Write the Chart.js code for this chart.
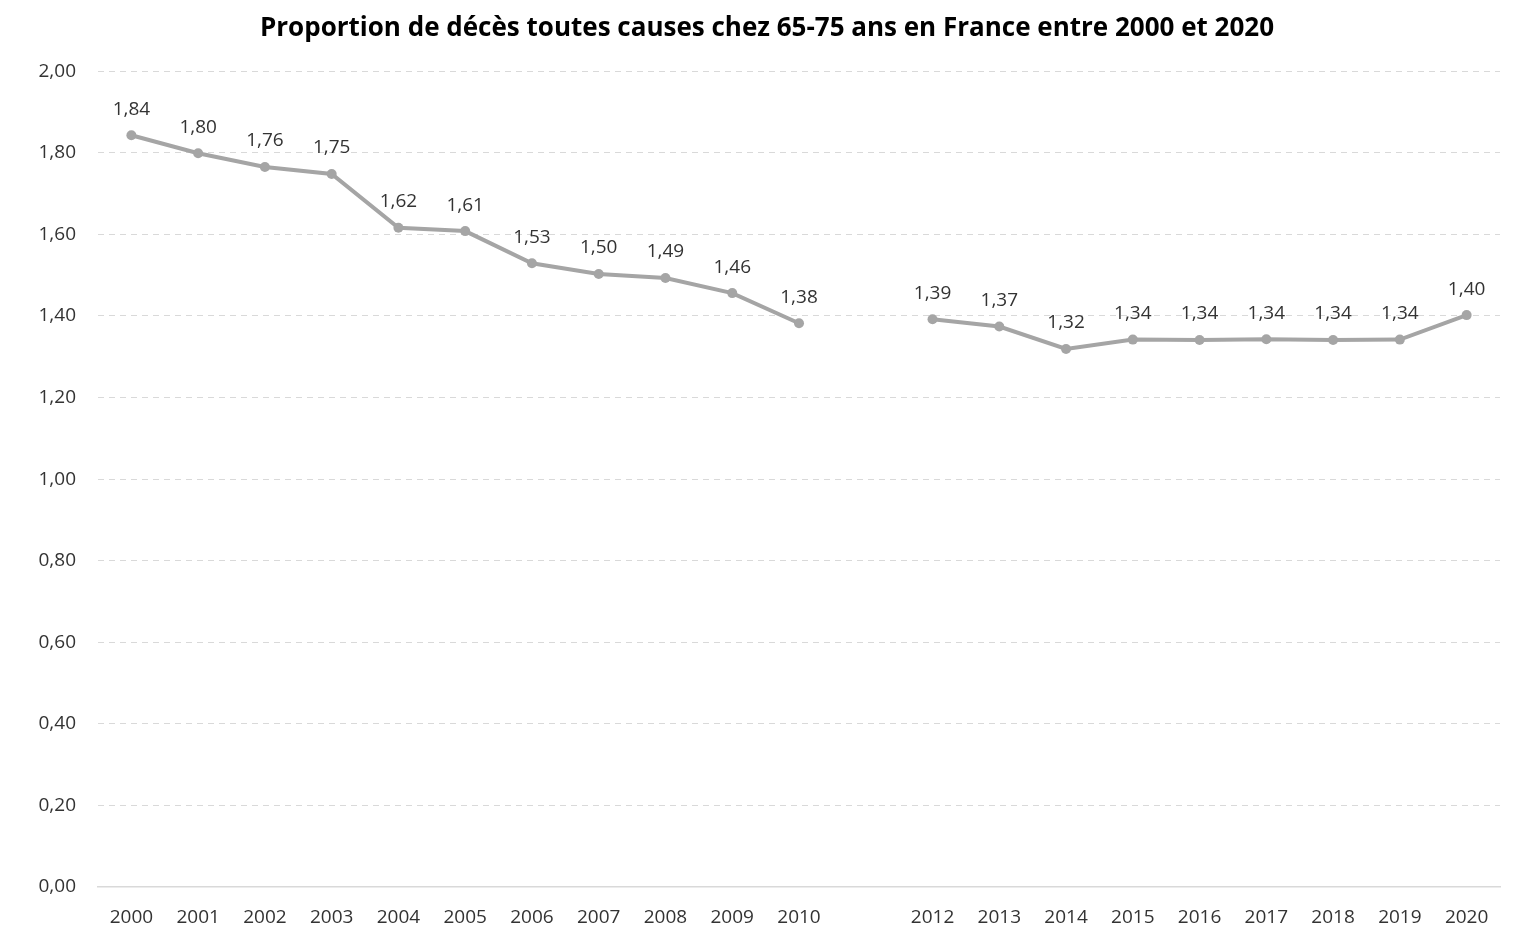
<!DOCTYPE html>
<html>
<head>
<meta charset="utf-8">
<script src="https://cdn.jsdelivr.net/npm/chart.js@4.4.1/dist/chart.umd.min.js"></script>
<style>
  html, body { margin: 0; padding: 0; background: #ffffff; }
  #wrap { width: 1538px; height: 931px; position: relative; }
</style>
</head>
<body>
<div id="wrap"><canvas id="c"></canvas></div>
<script>
const years = ['2000','2001','2002','2003','2004','2005','2006','2007','2008','2009','2010','',
               '2012','2013','2014','2015','2016','2017','2018','2019','2020'];
const deathShare = [1.843, 1.799, 1.765, 1.748, 1.616, 1.608, 1.529, 1.503, 1.493, 1.456, 1.382, null,
                    1.392, 1.374, 1.319, 1.342, 1.341, 1.343, 1.341, 1.342, 1.402];
const yTicks = [0, 0.2, 0.4, 0.6, 0.8, 1.0, 1.2, 1.4, 1.6, 1.8, 2.0];
const titleText = 'Proportion de décès toutes causes chez 65-75 ans en France entre 2000 et 2020';

const FONT = "'Open Sans', 'Liberation Sans', sans-serif";
const fmt = v => v.toFixed(2).replace('.', ',');

const labelPlugin = {
  id: 'pointLabels',
  afterDatasetsDraw(chart) {
    const ctx = chart.ctx;
    const meta = chart.getDatasetMeta(0);
    ctx.save();
    ctx.font = "19px " + FONT;
    ctx.fillStyle = '#333333';
    ctx.textAlign = 'center';
    ctx.textBaseline = 'middle';
    meta.data.forEach((pt, i) => {
      const v = chart.data.datasets[0].data[i];
      if (v === null || pt.skip) return;
      ctx.fillText(fmt(v), pt.x, pt.y - 26);
    });
    ctx.restore();
  }
};

new Chart(document.getElementById('c'), {
  type: 'line',
  data: {
    labels: years,
    datasets: [{
      data: deathShare,
      borderColor: '#a5a5a5',
      backgroundColor: '#a5a5a5',
      borderWidth: 4,
      pointRadius: 5,
      pointHoverRadius: 5,
      pointBackgroundColor: '#a5a5a5',
      pointBorderWidth: 0,
      tension: 0,
      spanGaps: false
    }]
  },
  options: {
    responsive: true,
    maintainAspectRatio: false,
    animation: false,
    layout: { padding: { left: 34, right: 38, top: 0, bottom: 0 } },
    plugins: {
      legend: { display: false },
      tooltip: { enabled: false },
      title: {
        display: true,
        text: titleText,
        color: '#000000',
        font: { family: FONT, size: 26, weight: 'bold' },
        padding: { top: 13, bottom: 27 }
      }
    },
    scales: {
      x: {
        offset: true,
        grid: { display: false, drawTicks: false },
        border: { display: true, color: '#d9d9d9', width: 1.5 },
        ticks: {
          color: '#333333',
          font: { family: FONT, size: 19 },
          padding: 19,
          maxRotation: 0,
          autoSkip: false
        },
        afterFit(scale) { scale.height = 44; }
      },
      y: {
        min: 0,
        max: 2,
        afterBuildTicks(scale) { scale.ticks = yTicks.map(v => ({ value: v })); },
        grid: {
          drawTicks: false,
          color: ctx => (ctx.tick && ctx.tick.value === 0) ? 'rgba(0,0,0,0)' : '#d9d9d9',
          lineWidth: 1
        },
        border: { display: false, dash: [6, 5] },
        ticks: {
          color: '#333333',
          font: { family: FONT, size: 19 },
          padding: 22,
          callback: v => fmt(v)
        },
        afterFit(scale) { scale.width = 64; }
      }
    }
  },
  plugins: [labelPlugin]
});
</script>
</body>
</html>
